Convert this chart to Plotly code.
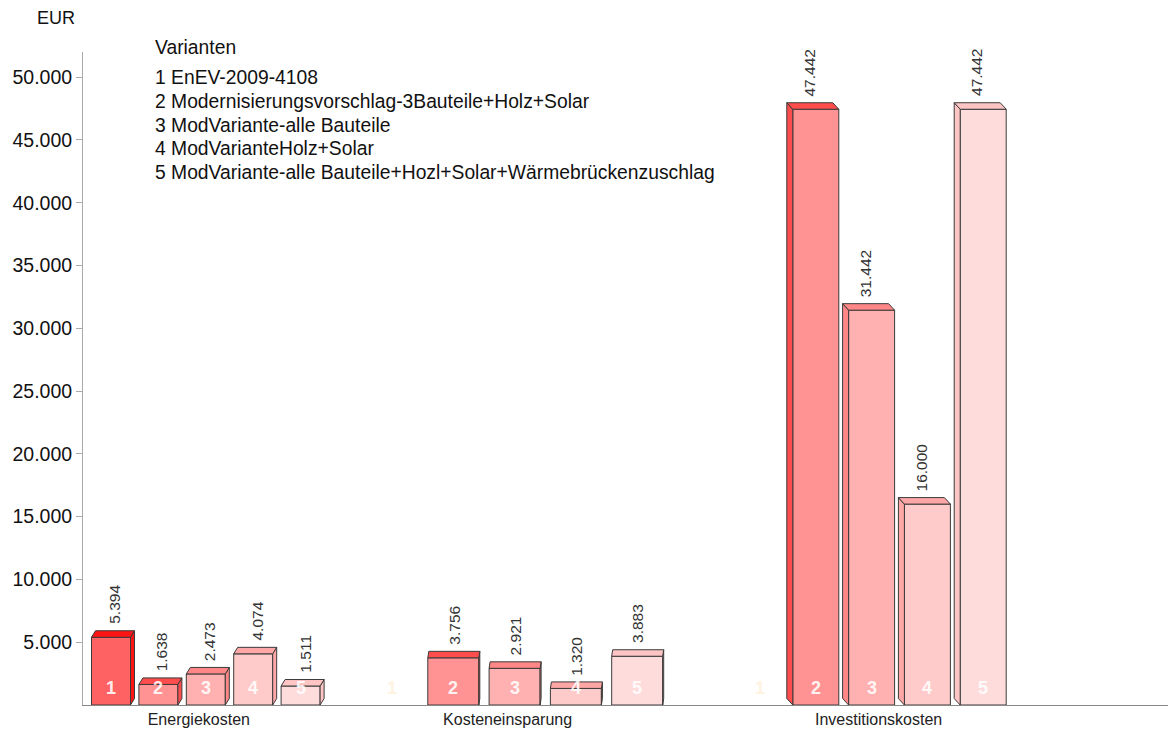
import plotly.graph_objects as go

# data
categories = ["Energiekosten", "Kosteneinsparung", "Investitionskosten"]
variants = [
    "1 EnEV-2009-4108",
    "2 Modernisierungsvorschlag-3Bauteile+Holz+Solar",
    "3 ModVariante-alle Bauteile",
    "4 ModVarianteHolz+Solar",
    "5 ModVariante-alle Bauteile+Hozl+Solar+Wärmebrückenzuschlag",
]
energiekosten = [5394, 1638, 2473, 4074, 1511]
kosteneinsparung = [0, 3756, 2921, 1320, 3883]
investitionskosten = [0, 47442, 31442, 16000, 47442]
y_ticks = [5000, 10000, 15000, 20000, 25000, 30000, 35000, 40000, 45000, 50000]

series = [energiekosten, kosteneinsparung, investitionskosten]

# look
front_colors = ["#ff6262", "#ff9393", "#ffb1b1", "#ffcaca", "#ffdcdc"]
top_colors = ["#ff1414", "#ff4c4c", "#ff8787", "#ffa6a6", "#ffc4c4"]
edge = "#3a3a3a"

W, H = 1168, 729
L, T, B = 83, 52, 24
plot_w = W - L
plot_h = H - T - B
y_max = 52000
px_y = y_max / plot_h  # y units per pixel

# group geometry in pixel-like x units
group_first = [28, 309, 677]
group_step = [47.4, 61.3, 55.8]
group_width = [39, 51, 46]
group_dx = [4, 1, -6]
label_shift = [-7, -7, 7]
dy = 6.5 * px_y


def de(v):
    return f"{v:,}".replace(",", ".")


def paper_x(px):
    return (px - L) / plot_w


def paper_y(py):
    return (H - B - py) / plot_h


fig = go.Figure()
annotations = []

for g, vals in enumerate(series):
    w = group_width[g]
    dx = group_dx[g]
    centers = [group_first[g] + i * group_step[g] for i in range(len(vals))]
    for i, v in enumerate(vals):
        xc = centers[i]
        xl, xr = xc - w / 2, xc + w / 2
        if v > 0:
            # side face
            xs = xr if dx >= 0 else xl
            fig.add_trace(go.Scatter(
                x=[xs, xs + dx, xs + dx, xs, xs],
                y=[0, dy, v + dy, v, 0],
                mode="lines", fill="toself", fillcolor=top_colors[i],
                line=dict(color=edge, width=1), hoverinfo="skip", showlegend=False,
            ))
            # top face
            fig.add_trace(go.Scatter(
                x=[xl, xr, xr + dx, xl + dx, xl],
                y=[v, v, v + dy, v + dy, v],
                mode="lines", fill="toself", fillcolor=top_colors[i],
                line=dict(color=edge, width=1), hoverinfo="skip", showlegend=False,
            ))
            annotations.append(dict(
                x=xc + dx, y=v, xref="x", yref="y", text=de(v), showarrow=False,
                textangle=-90, xanchor="center", yanchor="bottom", yshift=11,
                font=dict(size=15.5, color="#333333"),
            ))
        annotations.append(dict(
            x=xc, y=0, xref="x", yref="y", text=f"<b>{i + 1}</b>", showarrow=False,
            xanchor="center", yanchor="bottom", yshift=5,
            font=dict(size=18, color="rgba(255,255,255,0.9)" if v > 0 else "#fff2e0"),
        ))
    fig.add_trace(go.Bar(
        x=centers, y=[v if v > 0 else None for v in vals], width=w,
        marker=dict(color=front_colors, line=dict(color=edge, width=1)),
        showlegend=False, name=categories[g],
    ))

# variant list
annotations.append(dict(
    x=paper_x(153), y=paper_y(48), xref="paper", yref="paper",
    text="Varianten", showarrow=False, xanchor="left", yanchor="middle",
    font=dict(size=19.3, color="#111111"),
))
for k, name in enumerate(variants):
    annotations.append(dict(
        x=paper_x(153), y=paper_y(78 + k * 23.5), xref="paper", yref="paper",
        text=name, showarrow=False, xanchor="left", yanchor="middle",
        font=dict(size=19.3, color="#111111"),
    ))
annotations.append(dict(
    x=paper_x(56), y=paper_y(18), xref="paper", yref="paper",
    text="EUR", showarrow=False, xanchor="center", yanchor="middle",
    font=dict(size=18, color="#111111"),
))

tick_x = [group_first[g] + 2 * group_step[g] + label_shift[g] for g in range(3)]

fig.update_layout(
    width=W, height=H,
    margin=dict(l=L, r=0, t=T, b=B),
    paper_bgcolor="white", plot_bgcolor="white",
    font=dict(family="Liberation Sans, Arial, sans-serif", color="#111111"),
    barmode="overlay",
    xaxis=dict(
        range=[0, plot_w], showgrid=False, zeroline=False,
        showline=True, linecolor="#888888", linewidth=1,
        tickmode="array", tickvals=tick_x, ticktext=categories, ticks="",
        tickfont=dict(size=16, color="#222222"),
    ),
    yaxis=dict(
        range=[0, y_max], showgrid=False, zeroline=False,
        showline=True, linecolor="#aaaaaa", linewidth=1,
        tickmode="array", tickvals=y_ticks, ticktext=[de(v) for v in y_ticks],
        ticks="outside", ticklen=6, tickcolor="#aaaaaa",
        tickfont=dict(size=19.5, color="#111111"),
    ),
    annotations=annotations,
)

fig.write_html(
    "out.html",
    config={"displayModeBar": False},
    post_script="document.body.style.margin='0';",
)
